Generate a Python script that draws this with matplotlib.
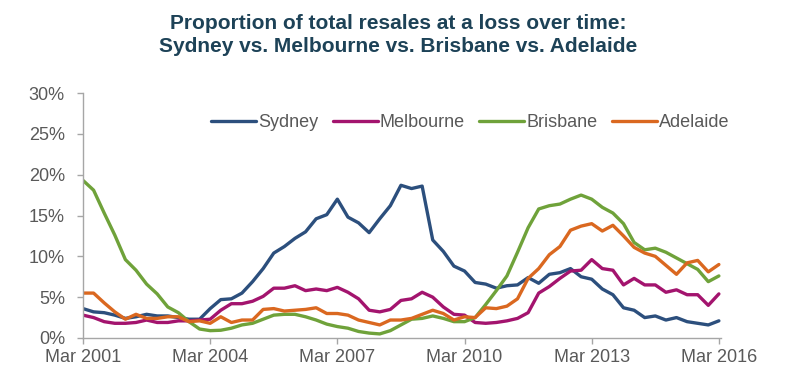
"""
Proportion of total resales at a loss over time, four capital cities.
Quarterly readings, Mar 2001 to Mar 2016.
"""

import numpy as np
import matplotlib
matplotlib.use('Agg')
import matplotlib.pyplot as plt
from matplotlib import font_manager
from matplotlib.ticker import FuncFormatter


# Data (percent of resales at a loss, one value per quarter from Mar 2001)

sydney = [3.6, 3.2, 3.1, 2.8, 2.4, 2.6, 2.9, 2.7, 2.7, 2.5,
          2.3, 2.3, 3.6, 4.7, 4.8, 5.5, 6.9, 8.5, 10.4, 11.2,
          12.2, 13.0, 14.6, 15.1, 17.0, 14.8, 14.1, 12.9, 14.6, 16.2,
          18.7, 18.3, 18.6, 12.0, 10.6, 8.8, 8.2, 6.8, 6.6, 6.1,
          6.4, 6.5, 7.4, 6.7, 7.8, 8.0, 8.5, 7.5, 7.2, 6.0,
          5.3, 3.7, 3.4, 2.5, 2.7, 2.2, 2.5, 2.0, 1.8, 1.6,
          2.1]

melbourne = [2.8, 2.5, 2.0, 1.8, 1.8, 1.9, 2.2, 1.9, 1.9, 2.1,
             2.1, 2.2, 2.3, 3.4, 4.2, 4.2, 4.5, 5.1, 6.1, 6.1,
             6.4, 5.8, 6.0, 5.8, 6.2, 5.6, 4.8, 3.4, 3.2, 3.5,
             4.6, 4.8, 5.6, 5.0, 3.8, 2.9, 2.8, 1.9, 1.8, 1.9,
             2.1, 2.4, 3.1, 5.5, 6.3, 7.3, 8.2, 8.3, 9.6, 8.5,
             8.3, 6.5, 7.3, 6.5, 6.5, 5.6, 5.9, 5.3, 5.3, 4.0,
             5.4]

brisbane = [19.3, 18.1, 15.3, 12.6, 9.6, 8.3, 6.6, 5.4, 3.8, 3.1,
            2.0, 1.1, 0.9, 0.95, 1.2, 1.6, 1.8, 2.3, 2.8, 2.9,
            2.9, 2.6, 2.2, 1.7, 1.4, 1.2, 0.8, 0.6, 0.5, 0.9,
            1.6, 2.3, 2.4, 2.7, 2.4, 2.0, 2.0, 2.5, 4.1, 5.8,
            7.6, 10.5, 13.5, 15.8, 16.2, 16.4, 17.0, 17.5, 17.0, 16.0,
            15.3, 14.0, 11.7, 10.8, 11.0, 10.5, 9.8, 9.1, 8.4, 6.9,
            7.6]

adelaide = [5.5, 5.5, 4.3, 3.2, 2.3, 2.9, 2.4, 2.4, 2.6, 2.6,
            2.0, 2.1, 1.8, 2.6, 1.9, 2.2, 2.2, 3.5, 3.6, 3.3,
            3.4, 3.5, 3.7, 3.0, 3.0, 2.8, 2.2, 1.9, 1.6, 2.2,
            2.2, 2.4, 2.9, 3.4, 3.0, 2.2, 2.6, 2.5, 3.7, 3.6,
            3.9, 4.8, 7.3, 8.5, 10.2, 11.2, 13.2, 13.7, 14.0, 13.1,
            13.8, 12.5, 11.1, 10.4, 10.0, 8.9, 7.8, 9.2, 9.5, 8.1,
            9.0]

city_names = ['Sydney', 'Melbourne', 'Brisbane', 'Adelaide']
tick_labels = ['Mar 2001', 'Mar 2004', 'Mar 2007', 'Mar 2010', 'Mar 2013', 'Mar 2016']
tick_quarters = [0, 12, 24, 36, 48, 60]
y_ticks = [0, 5, 10, 15, 20, 25, 30]


# Styling

colours = ['#2C4F7D', '#A3146E', '#6FA23A', '#DA6820']
title_colour = '#1D4257'
text_colour = '#595959'
axis_colour = '#A6A6A6'

installed = {f.name for f in font_manager.fontManager.ttflist}
family = 'Liberation Sans' if 'Liberation Sans' in installed else 'DejaVu Sans'
plt.rcParams['font.family'] = [family, 'DejaVu Sans']


def main():
    """Draw the chart."""

    series = [sydney, melbourne, brisbane, adelaide]
    quarters = np.arange(len(sydney))

    fig = plt.figure(figsize=[7.94, 3.92], dpi=100)
    ax = fig.add_axes([83 / 794, 1 - 338 / 392, 638 / 794, 245 / 392])

    for name, values, colour in zip(city_names, series, colours):
        ax.plot(quarters, values, color=colour, linewidth=2.4, label=name,
                solid_joinstyle='round', solid_capstyle='round')

    ax.set_xlim(0, 60.2)
    ax.set_ylim(0, 30)
    ax.set_xticks(tick_quarters)
    ax.set_xticklabels(tick_labels)
    ax.set_yticks(y_ticks)
    ax.yaxis.set_major_formatter(FuncFormatter(lambda v, pos: '%d%%' % v))

    for side in ['top', 'right']:
        ax.spines[side].set_visible(False)
    for side in ['left', 'bottom']:
        ax.spines[side].set_color(axis_colour)
        ax.spines[side].set_linewidth(1.0)

    ax.tick_params(axis='x', direction='out', length=4, width=1.0,
                   color=axis_colour, labelcolor=text_colour, labelsize=13, pad=4)
    ax.tick_params(axis='y', direction='out', length=4, width=1.0,
                   color=axis_colour, labelcolor=text_colour, labelsize=13, pad=9)

    leg = ax.legend(loc='center', bbox_to_anchor=(0.607, 0.88), ncol=4,
                    frameon=False, fontsize=13, handlelength=2.5,
                    handletextpad=0.1, columnspacing=0.8, borderaxespad=0)
    for text in leg.get_texts():
        text.set_color(text_colour)

    fig.text(0.502, 0.911,
             'Proportion of total resales at a loss over time:\n'
             'Sydney vs. Melbourne vs. Brisbane vs. Adelaide',
             ha='center', va='center', fontsize=15, fontweight='bold',
             color=title_colour, linespacing=1.25)

    plt.savefig('out.png', dpi=100)


if __name__ == '__main__':
    main()
